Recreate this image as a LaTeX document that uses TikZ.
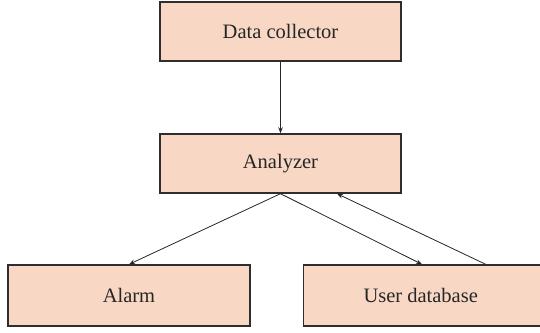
\documentclass[tikz,border=0pt]{standalone}
\usepackage{fontspec}
\setmainfont{Liberation Serif}
\usetikzlibrary{arrows.meta}
\definecolor{boxfill}{HTML}{F8D8C4}
\definecolor{boxline}{HTML}{2E2E2E}
\tikzset{
  blockbox/.style={draw=boxline, line width=1.4pt, fill=boxfill, rectangle, inner sep=0pt,
    minimum width=241pt, minimum height=59pt, font=\fontsize{20.5}{24}\selectfont, text=black!85},
  conn/.style={draw=black!85, line width=0.8pt, -{Stealth[length=6pt,width=4.5pt]}}
}
\begin{document}
\begin{tikzpicture}[x=1pt,y=-1pt]
\useasboundingbox (0,0) rectangle (540,332);
\node[blockbox] (dc) at (280.5,31.5) {Data collector};
\node[blockbox] (ana) at (280.5,163.5) {Analyzer};
\node[blockbox, minimum height=61pt, minimum width=242pt] (alarm) at (129,295.5) {Alarm};
\node[blockbox, minimum height=61pt, minimum width=260pt, anchor=west] (udb) at (303,295.5) {\hspace*{-26pt}User database};
\draw[conn] (dc.south) -- (ana.north);
\draw[conn] (ana.south) -- (alarm.north);
\draw[conn] (ana.south) -- ([xshift=119pt]udb.north west);
\draw[conn] ([xshift=182.7pt]udb.north west) -- ([xshift=56.5pt]ana.south);
\end{tikzpicture}
\end{document}
